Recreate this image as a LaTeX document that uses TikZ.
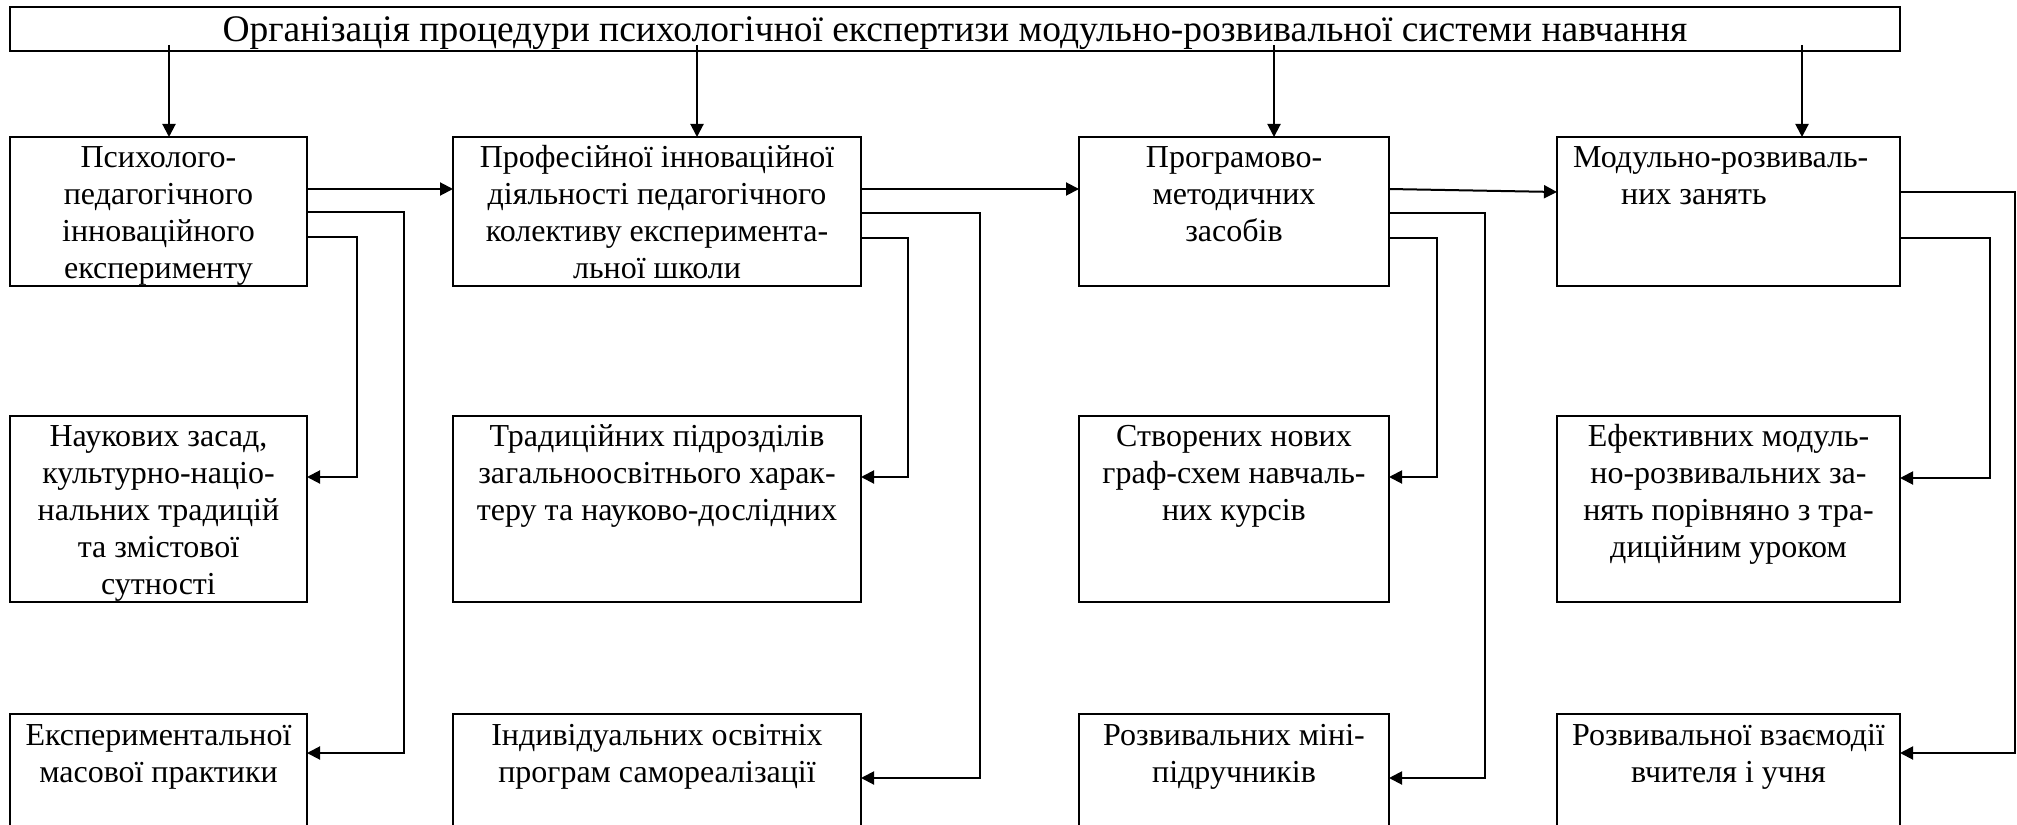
\documentclass[tikz,border=0pt]{standalone}
\usepackage{fontspec}
\setmainfont{Liberation Serif}
\usetikzlibrary{arrows.meta,calc}

\tikzset{
  box/.style={draw, line width=2.6pt, rectangle, inner sep=0pt, outer sep=0pt, anchor=north west},
  txt/.style={anchor=base, inner sep=0pt, font=\fontsize{32}{37}\selectfont},
  link/.style={line width=2pt},
  arr/.style={link, -{Triangle[length=13pt,width=13pt]}},
}

\begin{document}
\begin{tikzpicture}[x=1pt,y=-1pt]
\useasboundingbox (0,0) rectangle (2017,824);
\fill[white] (0,0) rectangle (2017,824);
\clip (0,0) rectangle (2017,824);

% title box
\node[box, minimum width=1890pt, minimum height=44pt] (top) at (10,7) {};
\node[txt, font=\fontsize{37.5}{42}\selectfont] (toptext) at ($(top.center)+(0,13)$)
  {Організація процедури психологічної експертизи модульно-розвивальної системи навчання};

% row 1
\node[box, minimum width=297pt, minimum height=149pt] (A1) at (10,137) {};
\node[box, minimum width=408pt, minimum height=149pt] (B1) at (453,137) {};
\node[box, minimum width=310pt, minimum height=149pt] (C1) at (1079,137) {};
\node[box, minimum width=343pt, minimum height=149pt] (D1) at (1557,137) {};

% row 2
\node[box, minimum width=297pt, minimum height=186pt] (A2) at (10,416) {};
\node[box, minimum width=408pt, minimum height=186pt] (B2) at (453,416) {};
\node[box, minimum width=310pt, minimum height=186pt] (C2) at (1079,416) {};
\node[box, minimum width=343pt, minimum height=186pt] (D2) at (1557,416) {};

% row 3 (runs past the lower edge)
\node[box, minimum width=297pt, minimum height=160pt] (A3) at (10,714) {};
\node[box, minimum width=408pt, minimum height=160pt] (B3) at (453,714) {};
\node[box, minimum width=310pt, minimum height=160pt] (C3) at (1079,714) {};
\node[box, minimum width=343pt, minimum height=160pt] (D3) at (1557,714) {};

% texts
\node[txt] (A1t) at ($(A1.north)+(0,30)$) {\begin{tabular}[t]{@{}c@{}}Психолого-\\педагогічного\\інноваційного\\експерименту\end{tabular}};
\node[txt] (B1t) at ($(B1.north)+(0,30)$) {\begin{tabular}[t]{@{}c@{}}Професійної інноваційної\\діяльності педагогічного\\колективу експеримента-\\льної школи\end{tabular}};
\node[txt] (C1t) at ($(C1.north)+(0,30)$) {\begin{tabular}[t]{@{}c@{}}Програмово-\\методичних\\засобів\end{tabular}};
\node[txt, anchor=base west] (D1t) at ($(D1.north west)+(16,30)$) {\begin{tabular}[t]{@{}l@{}}Модульно-розвиваль-\\\hspace*{48pt}них занять\end{tabular}};

\node[txt] (A2t) at ($(A2.north)+(0,30)$) {\begin{tabular}[t]{@{}c@{}}Наукових засад,\\культурно-націо-\\нальних традицій\\та змістової\\сутності\end{tabular}};
\node[txt] (B2t) at ($(B2.north)+(0,30)$) {\begin{tabular}[t]{@{}c@{}}Традиційних підрозділів\\загальноосвітнього харак-\\теру та науково-дослідних\end{tabular}};
\node[txt] (C2t) at ($(C2.north)+(0,30)$) {\begin{tabular}[t]{@{}c@{}}Створених нових\\граф-схем навчаль-\\них курсів\end{tabular}};
\node[txt] (D2t) at ($(D2.north)+(0,30)$) {\begin{tabular}[t]{@{}c@{}}Ефективних модуль-\\но-розвивальних за-\\нять порівняно з тра-\\диційним уроком\end{tabular}};

\node[txt] (A3t) at ($(A3.north)+(0,31)$) {\begin{tabular}[t]{@{}c@{}}Експериментальної\\масової практики\end{tabular}};
\node[txt] (B3t) at ($(B3.north)+(0,31)$) {\begin{tabular}[t]{@{}c@{}}Індивідуальних освітніх\\програм самореалізації\end{tabular}};
\node[txt] (C3t) at ($(C3.north)+(0,31)$) {\begin{tabular}[t]{@{}c@{}}Розвивальних міні-\\підручників\end{tabular}};
\node[txt] (D3t) at ($(D3.north)+(0,31)$) {\begin{tabular}[t]{@{}c@{}}Розвивальної взаємодії\\вчителя і учня\end{tabular}};

% arrows from the title box down to row 1
\foreach \n/\x in {A1/169, B1/697, C1/1274, D1/1802}{
  \coordinate (in\n) at (\x,0);
  \draw[arr] ($(in\n |- top.south)+(0,-6)$) -- (in\n |- \n.north);
}

% arrows along row 1
\coordinate (hy) at (0,189);
\draw[arr] (A1.east |- hy) -- (B1.west |- hy);
\draw[arr] (B1.east |- hy) -- (C1.west |- hy);
\draw[arr] (C1.east |- hy) -- ($(D1.west |- hy)+(0,3)$);

% branches of column A
\coordinate (As1) at (357,237); \coordinate (As2) at (357,477);
\coordinate (Al1) at (404,212); \coordinate (Al2) at (404,753);
\draw[arr] (A1.east |- As1) -- (As1) -- (As2) -- (A2.east |- As2);
\draw[arr] (A1.east |- Al1) -- (Al1) -- (Al2) -- (A3.east |- Al2);

% branches of column B
\coordinate (Bs1) at (908,238); \coordinate (Bs2) at (908,477);
\coordinate (Bl1) at (980,213); \coordinate (Bl2) at (980,778);
\draw[arr] (B1.east |- Bs1) -- (Bs1) -- (Bs2) -- (B2.east |- Bs2);
\draw[arr] (B1.east |- Bl1) -- (Bl1) -- (Bl2) -- (B3.east |- Bl2);

% branches of column C
\coordinate (Cs1) at (1437,238); \coordinate (Cs2) at (1437,477);
\coordinate (Cl1) at (1485,213); \coordinate (Cl2) at (1485,778);
\draw[arr] (C1.east |- Cs1) -- (Cs1) -- (Cs2) -- (C2.east |- Cs2);
\draw[arr] (C1.east |- Cl1) -- (Cl1) -- (Cl2) -- (C3.east |- Cl2);

% branches of column D
\coordinate (Ds1) at (1990,238); \coordinate (Ds2) at (1990,478);
\coordinate (Dl1) at (2015,192); \coordinate (Dl2) at (2015,753);
\draw[arr] (D1.east |- Ds1) -- (Ds1) -- (Ds2) -- (D2.east |- Ds2);
\draw[arr] (D1.east |- Dl1) -- (Dl1) -- (Dl2) -- (D3.east |- Dl2);
\end{tikzpicture}
\end{document}
